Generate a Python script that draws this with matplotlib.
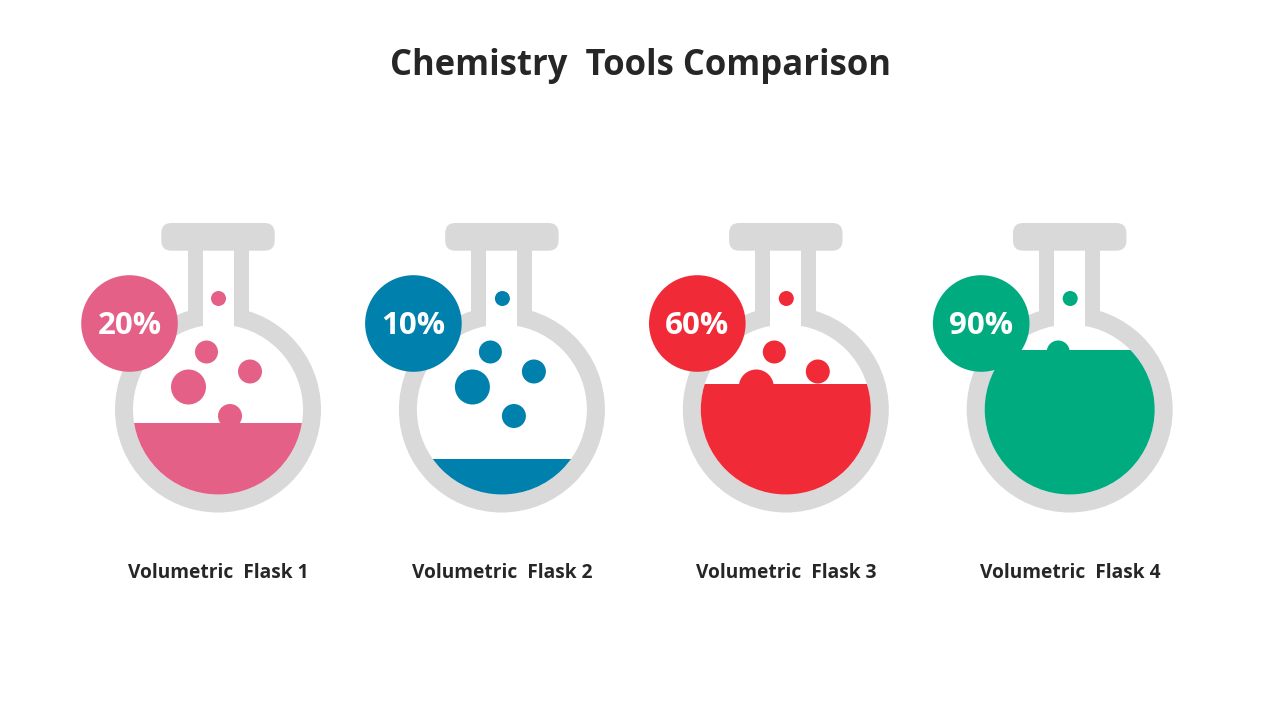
import matplotlib
matplotlib.use("Agg")
import matplotlib.pyplot as plt
from matplotlib.patches import Circle, FancyBboxPatch, Rectangle

title = "Chemistry  Tools Comparison"
flask_names = ["Volumetric  Flask 1", "Volumetric  Flask 2", "Volumetric  Flask 3", "Volumetric  Flask 4"]
percents = [20, 10, 60, 90]
# how high the liquid visibly stands, as share of the inner bulb height
# (the picture does not follow the printed percent)
fill_levels = [0.42, 0.21, 0.65, 0.85]
colors = ["#E56087", "#0080AC", "#F12A38", "#00AB80"]

GRAY = "#D9D9D9"
FONT = "Open Sans"

fig = plt.figure(figsize=(12.8, 7.2), dpi=100)
ax = fig.add_axes([0, 0, 1, 1])
ax.set_xlim(0, 1280)
ax.set_ylim(720, 0)
ax.axis("off")

ax.text(640, 66.5, title, ha="center", va="center", fontsize=24.9, fontweight="bold",
        color="#262626", family=FONT)


def draw_flask(cx, color, level, percent, name):
    cy = 409.5

    # glass
    ax.add_patch(Circle((cx, cy), 103, fc=GRAY, ec="none", zorder=1))
    ax.add_patch(Circle((cx, cy), 85, fc="white", ec="none", zorder=2))
    ax.add_patch(Rectangle((cx - 30.5, 245), 61, 85, fc=GRAY, ec="none", zorder=1))
    ax.add_patch(Rectangle((cx - 15.5, 245), 31, 90, fc="white", ec="none", zorder=2))
    ax.add_patch(FancyBboxPatch((cx - 46.7, 233), 93.4, 7.7, boxstyle="round,pad=10,rounding_size=10",
                                fc=GRAY, ec="none", zorder=3))

    # liquid, clipped to the inside of the bulb
    top = cy + 85 - 170 * level
    inner = Circle((cx, cy), 85, transform=ax.transData)
    liquid = Rectangle((cx - 90, top), 180, cy + 90 - top, fc=color, ec="none", zorder=4)
    ax.add_patch(liquid)
    liquid.set_clip_path(inner)

    # bubbles
    for dx, dy, r in [(0.5, 298.5, 7.5), (-11.5, 352, 11.5), (32, 371.5, 12),
                      (-29.5, 387, 17.5), (12, 416, 12)]:
        ax.add_patch(Circle((cx + dx, dy), r, fc=color, ec="none", zorder=4))

    # percent badge
    ax.add_patch(Circle((cx - 88.5, 323.5), 48.3, fc=color, ec="none", zorder=5))
    ax.text(cx - 88.5, 326, f"{percent}%", ha="center", va="center", fontsize=22.6,
            fontweight="bold", color="white", family=FONT, zorder=6)

    ax.text(cx + 0.5, 572.5, name, ha="center", va="center", fontsize=13.8, fontweight="bold",
            color="#262626", family=FONT)


for i in range(len(percents)):
    draw_flask(218 + i * 283.9, colors[i], fill_levels[i], percents[i], flask_names[i])

fig.savefig("out.png", dpi=100, facecolor="white")
